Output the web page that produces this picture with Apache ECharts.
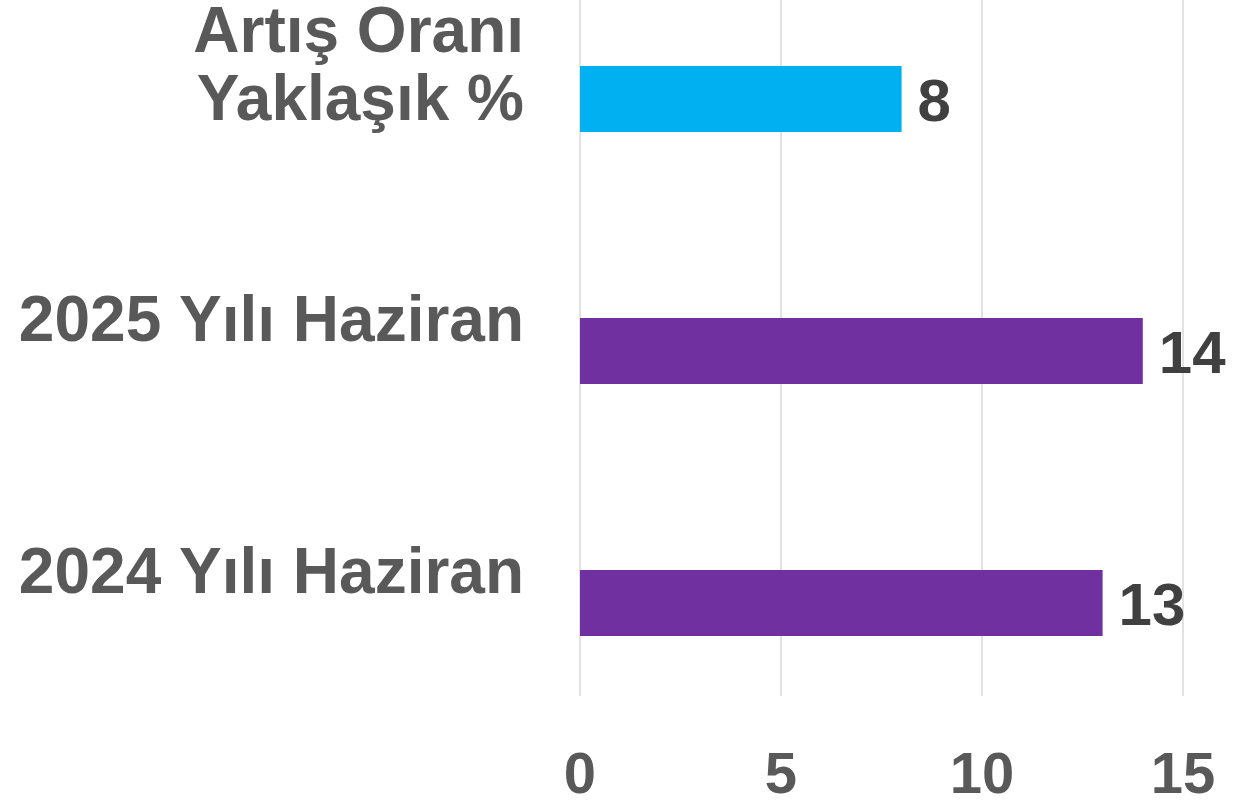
<!DOCTYPE html>
<html>
<head>
<meta charset="utf-8">
<script src="https://cdn.jsdelivr.net/npm/echarts@6/dist/echarts.min.js"></script>
<style>
  html, body { margin: 0; padding: 0; background: #fff; }
  #chart { width: 1260px; height: 803px; }
</style>
</head>
<body>
<div id="chart"></div>
<script>
// categories bottom -> top
const categories = ['2024 Yılı Haziran', '2025 Yılı Haziran', 'Artış Oranı\nYaklaşık %']
const values = [13, 14, 8]
const barColors = ['#7030A0', '#7030A0', '#00B0F0']
const emptySeries = ['-', '-', '-']
const xTicks = [0, 5, 10, 15]

const chart = echarts.init(document.getElementById('chart'))

const labelFont = '"Liberation Sans", Arial, sans-serif'

const catStyle = {
  color: '#595959',
  fontFamily: labelFont,
  fontWeight: 'bold',
  fontSize: 64,
  lineHeight: 73
}

const option = {
  animation: false,
  grid: { left: 580, right: 77, top: -60, bottom: 107, outerBoundsMode: 'none' },
  xAxis: {
    type: 'value',
    min: xTicks[0],
    max: xTicks[xTicks.length - 1],
    interval: 5,
    axisLine: { show: false },
    axisTick: { show: false },
    splitLine: { lineStyle: { color: '#D9D9D9', width: 1.5 } },
    axisLabel: {
      color: '#595959',
      fontFamily: labelFont,
      fontWeight: 'bold',
      fontSize: 58,
      margin: 52
    }
  },
  yAxis: {
    type: 'category',
    data: categories,
    axisLine: { show: false },
    axisTick: { show: false },
    axisLabel: {
      margin: 56,
      align: 'right',
      formatter: (value) => value.split('\n')
        .map((line, i) => (i === 0 ? '{first|' : '{rest|') + line + '}')
        .join('\n'),
      rich: {
        first: { ...catStyle, padding: [10, 0, 0, 0] },
        rest: { ...catStyle }
      }
    }
  },
  series: [
    {
      type: 'bar',
      data: emptySeries,
      barWidth: 66,
      barGap: '0%'
    },
    {
      type: 'bar',
      data: values.map((v, i) => ({ value: v, itemStyle: { color: barColors[i] } })),
      barWidth: 66,
      barGap: '0%',
      label: {
        show: true,
        position: 'right',
        distance: 16,
        offset: [0, 5],
        color: '#404040',
        fontFamily: labelFont,
        fontWeight: 'bold',
        fontSize: 60
      }
    }
  ]
}

chart.setOption(option)
</script>
</body>
</html>
